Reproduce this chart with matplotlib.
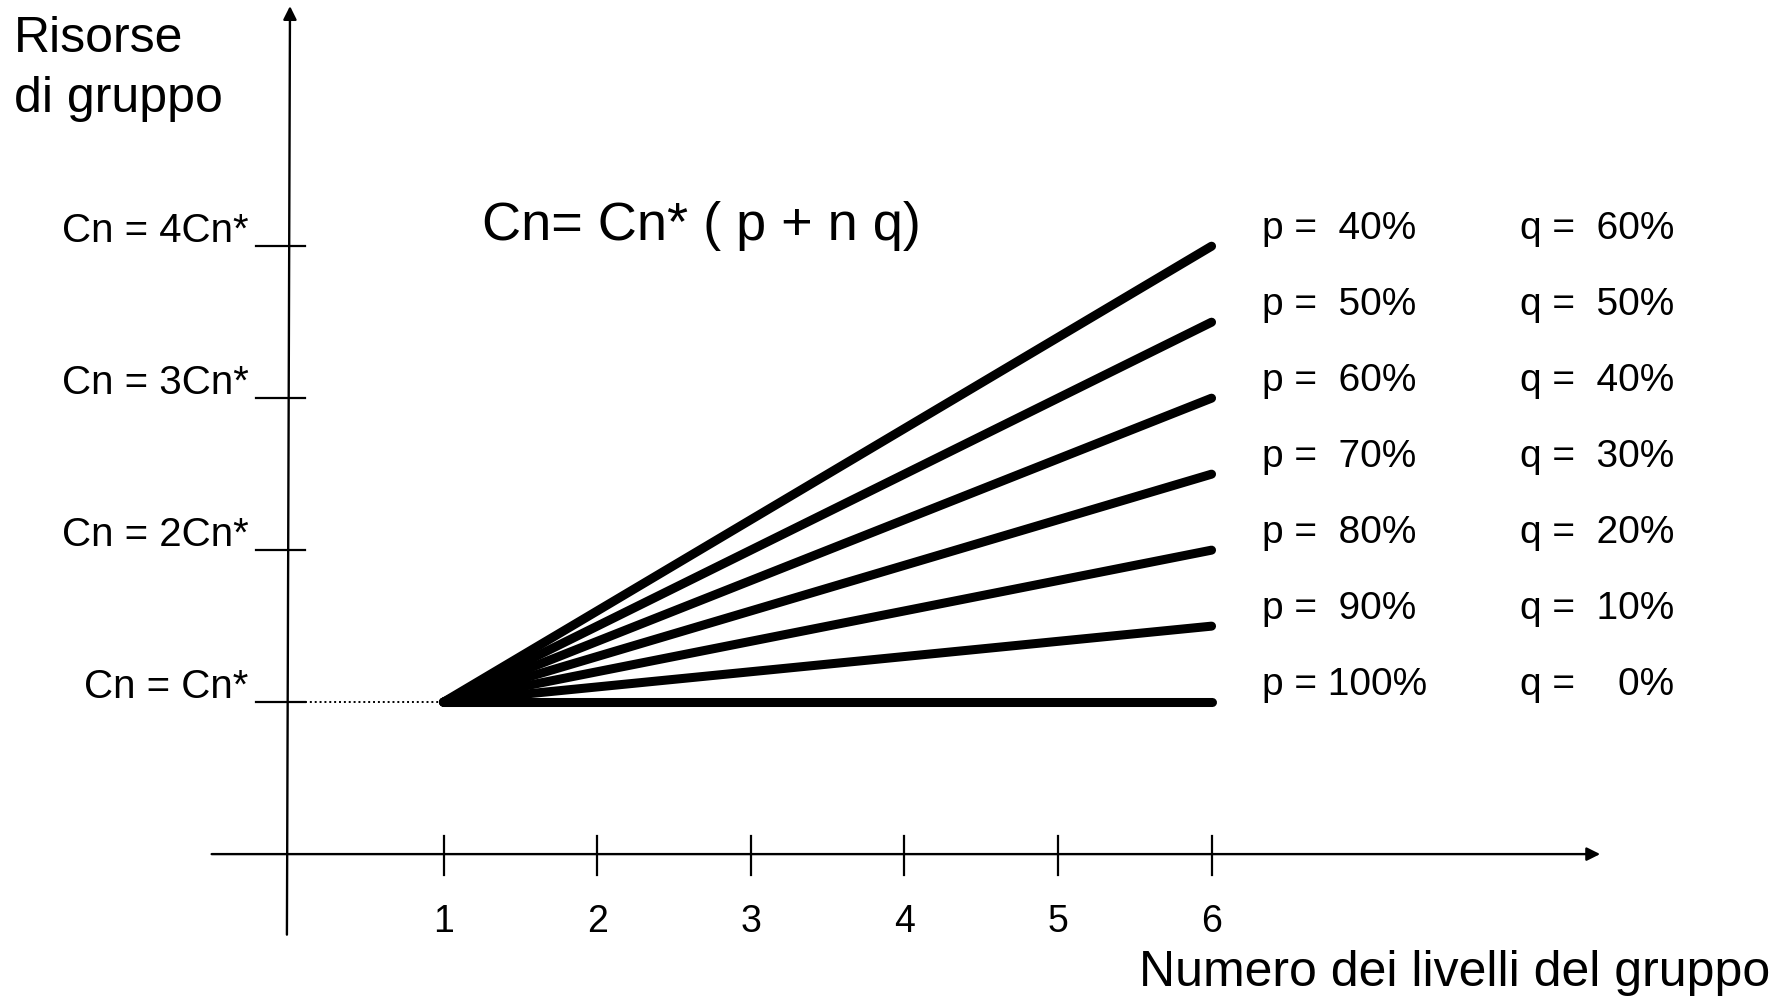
import matplotlib
matplotlib.use("Agg")
import matplotlib.pyplot as plt

plt.rcParams['font.family'] = ['Liberation Sans', 'DejaVu Sans']

# Data
p_values = [0.4, 0.5, 0.6, 0.7, 0.8, 0.9, 1.0]
q_values = [0.6, 0.5, 0.4, 0.3, 0.2, 0.1, 0.0]
n_start, n_end = 1, 6
x_ticks = [1, 2, 3, 4, 5, 6]
y_levels = [1, 2, 3, 4]
y_labels = ["Cn = Cn*", "Cn = 2Cn*", "Cn = 3Cn*", "Cn = 4Cn*"]
p_labels = ["p =  40%", "p =  50%", "p =  60%", "p =  70%", "p =  80%", "p =  90%", "p = 100%"]
q_labels = ["q =  60%", "q =  50%", "q =  40%", "q =  30%", "q =  20%", "q =  10%", "q =    0%"]

fig = plt.figure(figsize=(17.86, 10), dpi=100)
ax = fig.add_axes([0, 0, 1, 1])
ax.set_xlim(-1.888, 9.74)
ax.set_ylim(-0.96, 5.62)
ax.axis('off')

# axes with arrows
ax.annotate('', xy=(0, 5.58), xytext=(-0.02, -0.53),
            arrowprops=dict(arrowstyle='-|>', lw=1.7, color='black',
                            mutation_scale=20, shrinkA=0, shrinkB=0))
ax.annotate('', xy=(8.53, 0.0), xytext=(-0.51, 0.0),
            arrowprops=dict(arrowstyle='-|>', lw=1.7, color='black',
                            mutation_scale=20, shrinkA=0, shrinkB=0))

# x ticks
for t in x_ticks:
    ax.plot([t, t], [-0.14, 0.12], color='black', lw=1.6)
    ax.text(t, -0.51, str(t), ha='center', va='baseline', fontsize=27)

# y ticks
for lvl, lab in zip(y_levels, y_labels):
    ax.plot([-0.22, 0.1], [lvl, lvl], color='black', lw=1.6)
    ax.text(-0.27, lvl + 0.03, lab, ha='right', va='baseline', fontsize=29)

# dotted guide at Cn*
ax.plot([0.1, 1.0], [1, 1], color='black', lw=1.4, linestyle=(0, (1, 1.5)))

# lines
for p, q, pl, ql in zip(p_values, q_values, p_labels, q_labels):
    y0 = p + n_start * q
    y1 = p + n_end * q
    ax.plot([n_start, n_end], [y0, y1], color='black', lw=6.5,
            solid_capstyle='round')
    ax.text(6.33, y1 + 0.05, pl, ha='left', va='baseline', fontsize=28)
    ax.text(8.01, y1 + 0.05, ql, ha='left', va='baseline', fontsize=28)

# formula
ax.text(1.25, 4.13, "Cn= Cn* ( p + n q)", ha='left', va='center', fontsize=39)

# axis titles
ax.text(-1.80, 5.28, "Risorse", ha='left', va='baseline', fontsize=36)
ax.text(-1.80, 4.88, "di gruppo", ha='left', va='baseline', fontsize=36)
ax.text(5.53, -0.87, "Numero dei livelli del gruppo", ha='left', va='baseline', fontsize=36)

fig.savefig("out.png", dpi=100, facecolor='white')
